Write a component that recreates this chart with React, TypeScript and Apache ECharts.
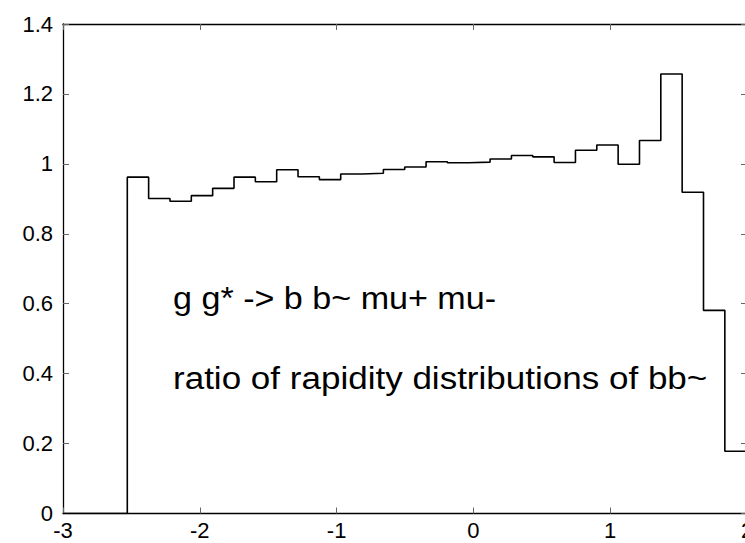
import React, { useEffect, useRef } from "react";
import * as echarts from "echarts";

// Histogram bin edges (left edges, last entry is the right edge of the final bin)
const binEdges = [
  -2.53, -2.374, -2.218, -2.062, -1.906, -1.75, -1.594, -1.438, -1.282, -1.126,
  -0.97, -0.814, -0.658, -0.502, -0.346, -0.19, -0.034, 0.122, 0.278, 0.434,
  0.59, 0.746, 0.902, 1.058, 1.214, 1.37, 1.526, 1.682, 1.838, 1.994,
];
// Ratio values per bin
const binValues = [
  0.962, 0.901, 0.893, 0.909, 0.93, 0.962, 0.949, 0.983, 0.963, 0.955,
  0.971, 0.973, 0.984, 0.991, 1.006, 1.003, 1.005, 1.014, 1.024, 1.02,
  1.004, 1.039, 1.054, 0.999, 1.067, 1.257, 0.919, 0.581, 0.178,
];
const xRange = [-3, 2];
const yRange = [0, 1.4];
const titleLines = ["g g* -> b b~ mu+ mu-", "ratio of rapidity distributions of bb~"];

export default function App() {
  const ref = useRef<HTMLDivElement>(null);
  useEffect(() => {
    if (!ref.current) return;
    const chart = echarts.init(ref.current, null, { renderer: "svg" });
    const pts: [number, number][] = [[xRange[0], 0]];
    binValues.forEach((v, i) => pts.push([binEdges[i], v]));
    pts.push([binEdges[binEdges.length - 1], binValues[binValues.length - 1]]);

    const font = "'Liberation Sans', Arial, Helvetica, sans-serif";
    const tickCommon = {
      show: true,
      inside: true,
      length: 6,
      lineStyle: { color: "#666", width: 1 },
    };
    const lineCommon = { show: true, onZero: false, lineStyle: { color: "#000", width: 1.3 } };

    chart.setOption({
      animation: false,
      backgroundColor: "#fff",
      grid: { left: 63, right: 13, top: 24, bottom: 29.5, containLabel: false },
      xAxis: [
        {
          type: "value",
          min: xRange[0],
          max: xRange[1],
          interval: 1,
          position: "bottom",
          axisLine: lineCommon,
          axisTick: tickCommon,
          splitLine: { show: false },
          axisLabel: { color: "#000", fontSize: 22, fontFamily: font, margin: 6 },
        },
        {
          type: "value",
          min: xRange[0],
          max: xRange[1],
          interval: 1,
          position: "top",
          axisLine: lineCommon,
          axisTick: tickCommon,
          splitLine: { show: false },
          axisLabel: { show: false },
        },
      ],
      yAxis: [
        {
          type: "value",
          min: yRange[0],
          max: yRange[1],
          interval: 0.2,
          position: "left",
          axisLine: lineCommon,
          axisTick: tickCommon,
          splitLine: { show: false },
          axisLabel: { color: "#000", fontSize: 22, fontFamily: font, margin: 10 },
        },
        {
          type: "value",
          min: yRange[0],
          max: yRange[1],
          interval: 0.2,
          position: "right",
          axisLine: lineCommon,
          axisTick: tickCommon,
          splitLine: { show: false },
          axisLabel: { show: false },
        },
      ],
      series: [
        {
          type: "line",
          step: "end",
          data: pts,
          symbol: "none",
          lineStyle: { color: "#000", width: 1.6 },
          z: 5,
        },
      ],
      graphic: [
        {
          type: "text",
          x: 173,
          y: 299,
          scaleX: 1.1,
          style: {
            text: titleLines[0],
            fontSize: 31,
            fontFamily: font,
            fill: "#000",
            verticalAlign: "middle",
          },
        },
        {
          type: "text",
          x: 173,
          y: 378,
          scaleX: 1.13,
          style: {
            text: titleLines[1],
            fontSize: 31,
            fontFamily: font,
            fill: "#000",
            verticalAlign: "middle",
          },
        },
      ],
    });
    return () => chart.dispose();
  }, []);
  return (
    <div
      style={{
        position: "fixed",
        left: 0,
        top: 0,
        width: 745,
        height: 543,
        overflow: "hidden",
        background: "#fff",
      }}
    >
      <div ref={ref} style={{ width: 760, height: 543 }} />
    </div>
  );
}
